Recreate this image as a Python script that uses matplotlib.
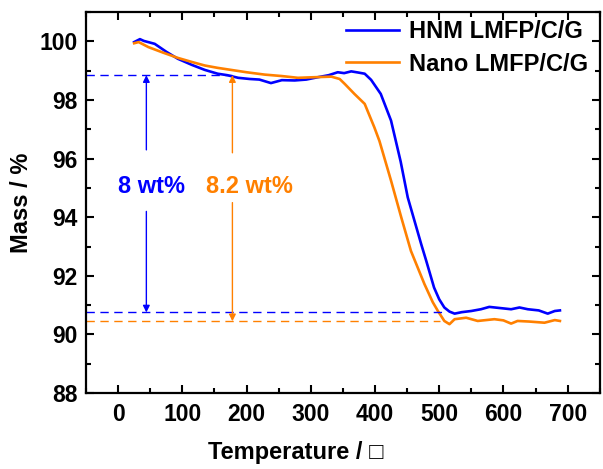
import matplotlib
matplotlib.use('Agg')
import matplotlib.pyplot as plt
from matplotlib.ticker import MultipleLocator

plt.rcParams['font.family'] = ['Liberation Sans', 'DejaVu Sans']
plt.rcParams['font.weight'] = 'bold'

# TGA data
hnm_t = [25, 34, 40, 57, 75, 93, 115, 135, 155, 170, 187, 205, 220, 238, 255, 275, 293, 311,
         328, 342, 352, 363, 374, 384, 394, 409, 425, 440, 451, 472, 480, 492, 500, 508, 516,
         524, 535, 550, 565, 578, 595, 612, 625, 638, 655, 669, 680, 688]
hnm_m = [99.98, 100.08, 100.02, 99.92, 99.65, 99.41, 99.20, 99.03, 98.90, 98.85, 98.76, 98.72,
         98.70, 98.58, 98.68, 98.67, 98.70, 98.78, 98.85, 98.95, 98.92, 98.98, 98.94, 98.90,
         98.69, 98.21, 97.30, 95.90, 94.68, 93.08, 92.50, 91.60, 91.20, 90.92, 90.78, 90.71,
         90.76, 90.80, 90.86, 90.94, 90.90, 90.86, 90.92, 90.86, 90.82, 90.71, 90.80, 90.82]

nano_t = [25, 32, 47, 70, 93, 115, 135, 155, 176, 200, 228, 255, 280, 305, 332, 345, 353, 368,
          384, 399, 407, 425, 441, 456, 477, 490, 498, 508, 516, 524, 542, 560, 586, 600, 612,
          622, 640, 664, 680, 688]
nano_m = [99.94, 99.98, 99.81, 99.62, 99.44, 99.30, 99.18, 99.10, 99.03, 98.95, 98.87, 98.82,
          98.76, 98.78, 98.80, 98.72, 98.55, 98.21, 97.87, 97.07, 96.60, 95.25, 93.99, 92.85,
          91.72, 91.10, 90.80, 90.46, 90.35, 90.52, 90.57, 90.46, 90.52, 90.48, 90.37, 90.46,
          90.44, 90.40, 90.49, 90.46]

labels = ['HNM LMFP/C/G', 'Nano LMFP/C/G']
colors = ['#0000ff', '#ff8000']

# levels for the mass loss marks
hnm_top, hnm_bottom = 98.85, 90.75
nano_top, nano_bottom = 98.85, 90.45
loss_text = ['8 wt%', '8.2 wt%']

fig = plt.figure(figsize=(6.03, 4.69), dpi=100)
ax = fig.add_axes([0.1426, 0.162, 0.852, 0.812])

ax.plot(hnm_t, hnm_m, color=colors[0], lw=1.9, label=labels[0])
ax.plot(nano_t, nano_m, color=colors[1], lw=1.9, label=labels[1])

# dashed reference lines
dash = dict(lw=1.0, linestyle=(0, (6, 4)))
ax.plot([-50, 178], [hnm_top, hnm_top], color=colors[0], **dash)
ax.plot([-50, 508], [hnm_bottom, hnm_bottom], color=colors[0], **dash)
ax.plot([-50, 502], [nano_bottom, nano_bottom], color=colors[1], **dash)

# arrows with gap for the text
arr = dict(arrowstyle='-|>', lw=1.0, mutation_scale=10, shrinkA=0, shrinkB=0)
ax.annotate('', xy=(44, hnm_top), xytext=(44, 96.3), arrowprops=dict(color=colors[0], **arr))
ax.annotate('', xy=(44, hnm_bottom), xytext=(44, 94.2), arrowprops=dict(color=colors[0], **arr))
ax.annotate('', xy=(178, nano_top), xytext=(178, 96.2), arrowprops=dict(color=colors[1], **arr))
ax.annotate('', xy=(178, nano_bottom), xytext=(178, 94.5), arrowprops=dict(color=colors[1], **arr))
ax.text(52, 95.05, loss_text[0], color=colors[0], fontsize=17, fontweight='bold', ha='center', va='center')
ax.text(205, 95.05, loss_text[1], color=colors[1], fontsize=17, fontweight='bold', ha='center', va='center')

ax.set_xlim(-50, 750)
ax.set_ylim(88, 101)
ax.xaxis.set_minor_locator(MultipleLocator(50))
ax.yaxis.set_major_locator(MultipleLocator(2))
ax.yaxis.set_minor_locator(MultipleLocator(1))
ax.set_xticks(range(0, 701, 100))
ax.tick_params(which='both', direction='in', top=True, right=True, width=1.5, labelsize=16.5)
ax.tick_params(which='major', length=6)
ax.tick_params(which='minor', length=3.5)
ax.tick_params(axis='x', pad=7)
ax.tick_params(axis='y', pad=6)
for s in ax.spines.values():
    s.set_linewidth(1.6)

ax.set_xlabel('Temperature / \u25a1', fontsize=17, fontweight='bold')
ax.set_ylabel('Mass / %', fontsize=17, fontweight='bold')
ax.xaxis.set_label_coords((296 - 86) / 514, -0.125)
ax.yaxis.set_label_coords(-0.103, 0.5)

ax.legend(loc='upper right', bbox_to_anchor=(1.0, 1.01), frameon=False, fontsize=17,
          handlelength=2.25, handletextpad=0.42, labelspacing=0.4, borderaxespad=0.1)

fig.savefig('out.png', dpi=100)
